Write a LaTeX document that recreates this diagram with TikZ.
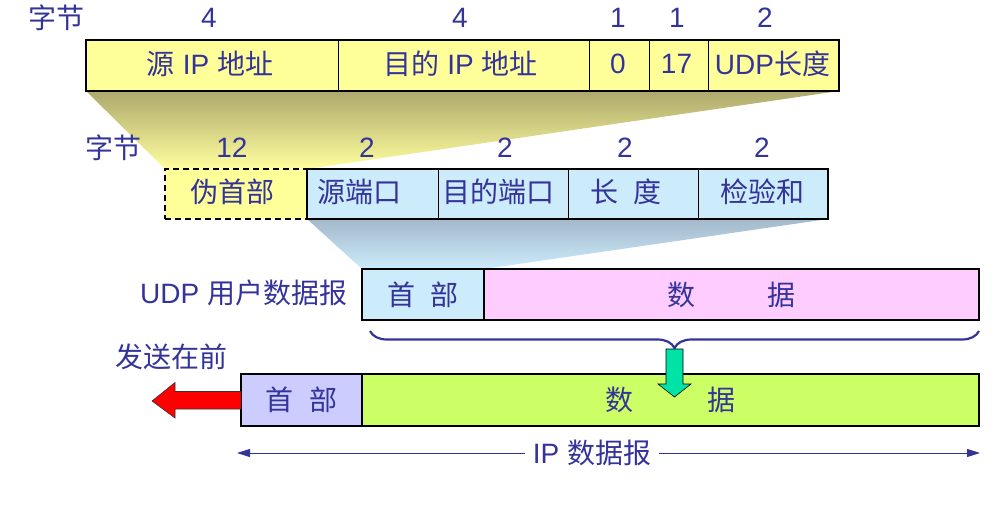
\documentclass[tikz,border=0pt]{standalone}
\usepackage{fontspec}
\setmainfont{Liberation Sans}
\newfontfamily\cjk{Noto Sans CJK SC}
\usetikzlibrary{decorations.pathreplacing,arrows.meta,calc}
\newcommand\hz[1]{{\cjk #1}}
\definecolor{ink}{HTML}{333399}
\definecolor{yel}{HTML}{FFFF99}
\definecolor{sky}{HTML}{CCEBFB}
\definecolor{pink}{HTML}{FFCCFF}
\definecolor{lilac}{HTML}{CCCCFF}
\definecolor{lime}{HTML}{CCFF66}
\definecolor{mint}{HTML}{00E3A6}
\definecolor{olive}{HTML}{ADA86C}
\definecolor{steel}{HTML}{A3B8CB}
\begin{document}
\begin{tikzpicture}[x=1pt,y=-1pt,
  every node/.style={text=ink,font=\fontsize{28}{31}\selectfont,inner sep=0pt,outer sep=0pt},
  cell/.style={draw=black,line width=0.8pt},
  frame/.style={draw=black,line width=2.4pt}]
\useasboundingbox (0,0) rectangle (997,519);

% expansion wedges between the rows
\shade[top color=olive,bottom color=yel!95!white]
  (86,91) -- (839,91) -- (307,169) -- (165,169) -- cycle;
\shade[top color=steel,bottom color=sky]
  (307,219) -- (828,219) -- (484,269) -- (362,269) -- cycle;

% IP header fields used in the pseudo header
\node[cell,fill=yel,minimum width=252,minimum height=51] (sip)   at (212,65.5)   {};
\node[cell,fill=yel,minimum width=251,minimum height=51] (dip)   at (463.5,65.5) {};
\node[cell,fill=yel,minimum width=60,minimum height=51]  (zero)  at (619,65.5)   {};
\node[cell,fill=yel,minimum width=59,minimum height=51]  (proto) at (678.5,65.5) {};
\node[cell,fill=yel,minimum width=131,minimum height=51] (ulen)  at (773.5,65.5) {};
\draw[frame] (sip.north west) rectangle (ulen.south east);
\node at ($(sip)+(-2,-2)$)   {\hz{源} IP \hz{地址}};
\node at ($(dip)+(-3,-2)$)   {\hz{目的} IP \hz{地址}};
\node at ($(zero)+(-1,-2)$)  {0};
\node at ($(proto)+(-2,-2)$) {17};
\node at ($(ulen)+(-1,-2)$)  {UDP\hz{长度}};

\node (b1) at (56,18) {\hz{字节}};
\node at (209,18) {4};
\node at (460,18) {4};
\node at (618,18) {1};
\node at (677,18) {1};
\node at (765,18) {2};

% UDP header with the pseudo header in front
\node[draw=black,dashed,dash pattern=on 6pt off 4pt,line width=1.6pt,fill=yel,minimum width=142,minimum height=50] (pseudo) at (236,194) {};
\node[cell,fill=sky,minimum width=131,minimum height=50] (sport) at (372.5,194) {};
\node[cell,fill=sky,minimum width=130,minimum height=50] (dport) at (503,194) {};
\node[cell,fill=sky,minimum width=130,minimum height=50] (ulen2) at (633,194) {};
\node[cell,fill=sky,minimum width=130,minimum height=50] (csum)  at (763,194) {};
\draw[draw=black,line width=2pt] (sport.north west) rectangle (csum.south east);

\node at ($(pseudo)+(-4,-2)$) {\hz{伪首部}};
\node at ($(sport)+(-13,-2)$) {\hz{源端口}};
\node at ($(dport)+(-5,-2)$)  {\hz{目的端口}};
\node at ($(ulen2)+(-7,-2)$)  {\hz{长}\hspace{16pt}\hz{度}};
\node at ($(csum)+(-1,-2)$)   {\hz{检验和}};

\node (b2) at (113,148) {\hz{字节}};
\node at (232,148) {12};
\node at (367,148) {2};
\node at (505,148) {2};
\node at (625,148) {2};
\node at (762,148) {2};

% UDP user datagram
\node[draw=black,line width=1.3pt,fill=sky,minimum width=122,minimum height=51] (uhdr) at (423,294.5) {\hz{首}\hspace{16pt}\hz{部}};
\node[draw=black,line width=1.3pt,fill=pink,minimum width=495,minimum height=51] (udata) at (731.5,294.5) {\hz{数}\hspace{72pt}\hz{据}};
\node[anchor=east] (ulab) at (347,293) {UDP \hz{用户数据报}};

% brace gathering the whole UDP datagram
\coordinate (brl) at (370,331);
\coordinate (brr) at (979,331);
\draw[ink,line width=2.2pt,decorate,decoration={brace,mirror,amplitude=17pt}] (brl) -- (brr);
\coordinate (btip) at ($(brl)!0.5!(brr)+(0,17)$);

% IP datagram
\node[frame,fill=lilac,minimum width=121,minimum height=52] (ihdr) at (301.5,400) {\hz{首}\hspace{17pt}\hz{部}};
\node[frame,fill=lime,minimum width=617,minimum height=52] (idata) at (670.5,400) {\hz{数}\hspace{74pt}\hz{据}};

% UDP datagram becomes the IP payload
\fill[mint,draw=black,line width=0.6pt]
  ($(btip)+(-8.5,1)$) -- ($(btip)+(8.5,1)$) -- ($(btip)+(8.5,36)$) -- ($(btip)+(16.5,36)$)
  -- ($(btip)+(0,49)$) -- ($(btip)+(-16.5,36)$) -- ($(btip)+(-8.5,36)$) -- cycle;

% sent first
\fill[red,draw=black!80,line width=0.6pt]
  ($(ihdr.west)+(0,-8.5)$) -- ($(ihdr.west)+(-66,-8.5)$) -- ($(ihdr.west)+(-66,-17.5)$)
  -- ($(ihdr.west)+(-89,1)$) -- ($(ihdr.west)+(-66,18)$) -- ($(ihdr.west)+(-66,9)$)
  -- ($(ihdr.west)+(0,9)$) -- cycle;
\node (first) at (171,357) {\hz{发送在前}};

% extent of the IP datagram
\coordinate (ipl) at (237,453);
\coordinate (ipr) at (980,453);
\node[inner xsep=8pt,fill=white] (iplab) at (592,453) {IP \hz{数据报}};
\draw[ink,line width=1pt,-{Triangle[length=13pt,width=8pt]}] (iplab.west) -- (ipl);
\draw[ink,line width=1pt,-{Triangle[length=13pt,width=8pt]}] (iplab.east) -- (ipr);
\end{tikzpicture}
\end{document}
